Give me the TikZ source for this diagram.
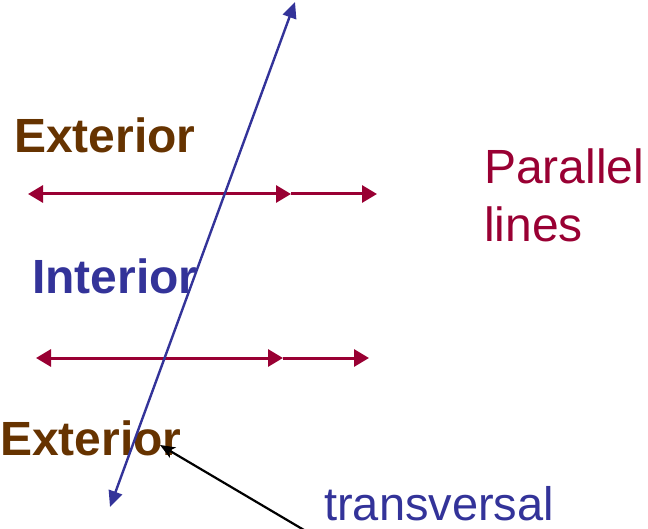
\documentclass[tikz,border=0pt]{standalone}
\usepackage{fontspec}
\setmainfont{Liberation Sans}
\usetikzlibrary{arrows.meta}
\definecolor{extbrown}{HTML}{663300}
\definecolor{intblue}{HTML}{333399}
\definecolor{parred}{HTML}{990033}
\tikzset{
  lbl/.style={anchor=base west, inner sep=0pt, font=\fontsize{47}{48}\selectfont},
  boldlbl/.style={lbl, font=\fontsize{48}{50}\selectfont\bfseries},
  parline/.style={parred, line width=3pt},
  ptip/.tip={Triangle[length=15pt,width=17pt]},
  trans/.style={intblue, line width=2.4pt},
  ttip/.tip={Triangle[length=16pt,width=14pt]},
  pointer/.style={black, line width=2.2pt, -{Stealth[length=15pt,width=12pt,inset=4pt]}}
}
\begin{document}
\begin{tikzpicture}[x=1pt,y=-1pt]
\useasboundingbox (0,0) rectangle (648,529);
% parallel lines
\coordinate (p1a) at (28,194);
\coordinate (p1m) at (291,194);
\coordinate (p1b) at (377,194);
\coordinate (p2a) at (36,358);
\coordinate (p2m) at (283,358);
\coordinate (p2b) at (369,358);
\draw[parline, ptip-ptip] (p1a) -- (p1m);
\draw[parline, -ptip] (p1m) -- (p1b);
\draw[parline, ptip-ptip] (p2a) -- (p2m);
\draw[parline, -ptip] (p2m) -- (p2b);
% labels
\node[boldlbl, text=extbrown] (ext1) at (14,153) {Exterior};
\node[boldlbl, text=intblue] (int) at (32,294) {Interior};
\node[boldlbl, text=extbrown] (ext2) at (0,455) {Exterior};
\node[lbl, text=parred, font=\fontsize{48}{50}\selectfont] (par1) at (484,184) {Parallel};
\node[lbl, text=parred, font=\fontsize{48}{50}\selectfont] (par2) at (484,242) {lines};
\node[lbl, text=intblue] (trv) at (324,520) {transversal};
% transversal
\coordinate (ttop) at (295,2);
\coordinate (tbot) at (110,507);
\draw[trans, ttip-ttip] (tbot) -- (ttop);
% pointer
\coordinate (ptail) at (304,530);
\coordinate (phead) at (160,445);
\draw[pointer] (ptail) -- (phead);
\end{tikzpicture}
\end{document}
